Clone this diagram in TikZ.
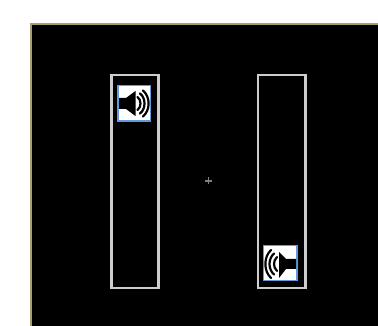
\documentclass[tikz,border=0pt]{standalone}
\definecolor{framecol}{RGB}{168,158,110}
\definecolor{slotcol}{RGB}{205,205,205}
\definecolor{iconblue}{RGB}{95,155,220}
\tikzset{
  slotbox/.style={draw=slotcol,line width=2.7pt},
  iconbox/.style={draw=iconblue,fill=white,line width=1.9pt},
  wave/.style={draw=black,line width=2.2pt,line cap=round},
}
\begin{document}
\begin{tikzpicture}[x=1pt,y=-1pt]
\useasboundingbox (0,0) rectangle (378,326);
\fill[white] (0,0) rectangle (378,326);
\fill[black] (31,24) rectangle (378,326);
\draw[framecol,line width=2.8pt] (31,326) -- (31,24) -- (378,24);
% slots
\draw[slotbox] (111.5,75) rectangle (158.5,288);
\draw[slotbox] (258,75) rectangle (305.5,288);
% centre mark
\draw[gray,line width=1.2pt] (205,181) -- (212,181) (208.5,177.5) -- (208.5,184.5);
% left speaker
\draw[iconbox] (118,85.5) rectangle (150.5,121);
\fill[black] (119,98) -- (126,98) -- (135.5,91) -- (135.5,116) -- (126,109) -- (119,109) -- cycle;
\draw[wave] (137.5,97) .. controls (141.5,100) and (141.5,107) .. (137.5,110);
\draw[wave] (140,93.5) .. controls (146,98) and (146,109) .. (140,113.5);
\draw[wave] (143,90.5) .. controls (150.5,97) and (150.5,110) .. (143,116.5);
% right speaker
\draw[iconbox] (263.5,245.5) rectangle (297,280.5);
\fill[black] (296,259) -- (286,259) -- (279,252) -- (279,278) -- (286,269) -- (296,269) -- cycle;
\draw[wave] (277,257) .. controls (273,261) and (273,267) .. (277,271);
\draw[wave] (274,253.5) .. controls (268,259) and (268,269) .. (274,274.5);
\draw[wave] (271,250) .. controls (263.5,257) and (263.5,271) .. (271,278);
\end{tikzpicture}
\end{document}
